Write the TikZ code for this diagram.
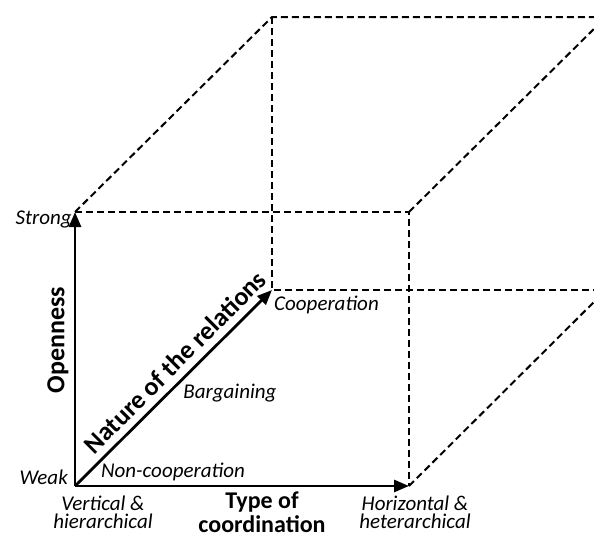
\documentclass[tikz,border=0pt]{standalone}
\usepackage{fontspec}
\setmainfont{Carlito}
\usetikzlibrary{arrows.meta}

\begin{document}
\begin{tikzpicture}[x=1pt,y=-1pt,
                    axis/.style={-{Triangle[length=15pt,width=12pt]},line width=2.8pt},
                    cube edge/.style={line width=2pt,dash pattern=on 7pt off 4pt},
                    lbl/.style={font=\itshape\fontsize{21}{18}\selectfont,inner sep=1pt,align=center},
                    axis title/.style={font=\bfseries\fontsize{24}{24}\selectfont,inner sep=1pt,align=center}]
\useasboundingbox (0,0) rectangle (594,538);
\clip (0,0) rectangle (594,538);
% corners of the cube
\coordinate (O) at (75,486);
\coordinate (X) at (409,486);
\coordinate (Y) at (75,212);
\coordinate (XY) at (409,212);
\coordinate (Z) at (272,290);
\coordinate (ZX) at (606,290);
\coordinate (ZY) at (272,17);
\coordinate (ZXY) at (606,17);
% dashed edges
\draw[cube edge] (Y) -- (XY) -- (X);
\draw[cube edge] (Y) -- (ZY) -- (ZXY);
\draw[cube edge] (XY) -- (ZXY);
\draw[cube edge] (ZY) -- (Z) -- (ZX);
\draw[cube edge] (X) -- (ZX) -- (ZXY);
% axes
\draw[axis] (O) -- (X);
\draw[axis] (O) -- (Y);
\draw[axis] (O) -- (Z);
% labels
\node[lbl,anchor=east] (strong) at (73,219) {Strong};
\node[lbl,anchor=east] (weak) at (69,477) {Weak};
\node[lbl] (vertical) at (103,512) {Vertical \&\\hierarchical};
\node[lbl] (horizontal) at (415,512) {Horizontal \&\\heterarchical};
\node[lbl,anchor=west] (coop) at (273,305) {Cooperation};
\node[lbl] (barg) at (230,393) {Bargaining};
\node[lbl] (noncoop) at (173,472) {Non-cooperation};
\node[axis title] (type) at (262,512) {Type of\\coordination};
\node[axis title,font=\bfseries\fontsize{26}{26}\selectfont,rotate=90] (openness) at (58,340) {Openness};
\node[axis title,font=\bfseries\fontsize{26}{26}\selectfont,rotate=45] (nature) at (175,362) {Nature of the relations};
\end{tikzpicture}
\end{document}
